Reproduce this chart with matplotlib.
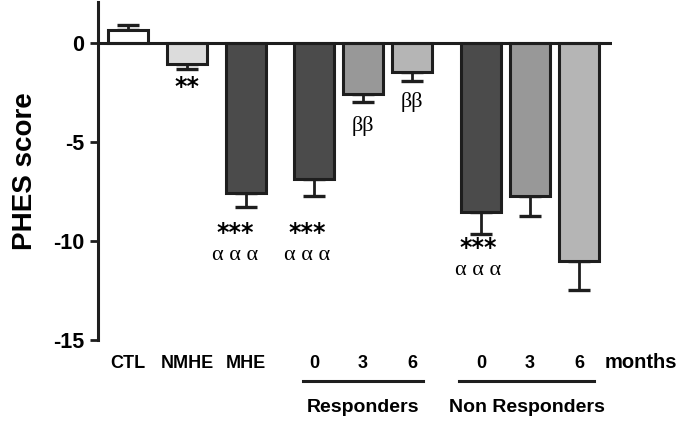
import matplotlib
matplotlib.use("Agg")
import matplotlib.pyplot as plt
import matplotlib.transforms as mtransforms

plt.rcParams["font.family"] = ["Liberation Sans", "DejaVu Sans"]

# data
groups = ["CTL", "NMHE", "MHE", "R0", "R3", "R6", "NR0", "NR3", "NR6"]
tick_names = ["CTL", "NMHE", "MHE", "0", "3", "6", "0", "3", "6"]
scores = [0.65, -1.1, -7.6, -6.9, -2.6, -1.5, -8.55, -7.75, -11.0]
sem = [0.25, 0.25, 0.7, 0.85, 0.4, 0.45, 1.1, 1.0, 1.5]
stars = ["", "**", "***", "***", "", "", "***", "", ""]
greek = ["", "", "α α α", "α α α", "ββ", "ββ", "α α α", "", ""]

# layout (pixel-like x units), and where the marks sit
pos = [128, 187, 246, 314, 363, 412, 481, 530, 579]
mark_dx = [0, 0, -11, -7, 0, 0, -3, 0, 0]
star_y = [0, -2.25, -9.6, -9.6, 0, 0, -10.35, 0, 0]
greek_y = [0, 0, -10.75, -10.75, -4.2, -3.0, -11.5, 0, 0]
fills = ["#ffffff", "#dcdcdc", "#4b4b4b", "#4b4b4b", "#989898",
         "#b5b5b5", "#4b4b4b", "#989898", "#b5b5b5"]
EDGE = "#1e1e1e"
H = 424.0
SERIF = ["Liberation Serif", "DejaVu Serif"]

fig = plt.figure(figsize=(6.85, 4.24), dpi=100)
ax = fig.add_axes([98 / 685, 1 - 340 / H, (612 - 98) / 685, 338 / H])

lower = [e if v < 0 else 0 for v, e in zip(scores, sem)]
upper = [e if v > 0 else 0 for v, e in zip(scores, sem)]
ax.errorbar(pos, scores, yerr=[lower, upper], fmt="none", ecolor=EDGE,
            elinewidth=2, capsize=8, capthick=2.4, zorder=2)
ax.bar(pos, scores, width=40, color=fills, edgecolor=EDGE, linewidth=2.2, zorder=3)
ax.axhline(0, xmin=0, xmax=1, color=EDGE, linewidth=2.2, zorder=4)

ax.set_xlim(98, 612)
ax.set_ylim(-15, 2.05)
ax.set_yticks([0, -5, -10, -15])
ax.set_yticklabels(["0", "-5", "-10", "-15"], fontsize=15.5, fontweight="bold")
ax.tick_params(axis="y", direction="out", length=6, width=2, color=EDGE, pad=4)
ax.set_xticks([])
for s in ["top", "right", "bottom"]:
    ax.spines[s].set_visible(False)
ax.spines["left"].set_linewidth(2.2)
ax.spines["left"].set_color(EDGE)
ax.spines["left"].set_bounds(-15, 2.05)
ax.set_ylabel("PHES score", fontsize=20, fontweight="bold", labelpad=11)

# significance marks below the bars
for x, dx, st, sy, gk, gy in zip(pos, mark_dx, stars, star_y, greek, greek_y):
    if st:
        ax.text(x + dx, sy, st, ha="center", va="center", fontsize=17,
                fontweight="bold", family="DejaVu Sans", zorder=5)
    if gk:
        ax.text(x + dx, gy, gk, ha="center", va="center", fontsize=16,
                family=SERIF, zorder=5)

# labels under the axis
tr = mtransforms.blended_transform_factory(ax.transData, fig.transFigure)
for x, name in zip(pos, tick_names):
    ax.text(x, 1 - 364 / H, name, transform=tr, ha="center", va="center",
            fontsize=13, fontweight="bold", clip_on=False)
ax.text(605, 1 - 362 / H, "months", transform=tr, ha="left", va="center",
        fontsize=14.5, fontweight="bold", clip_on=False)

for x0, x1, lab in [(303, 423, "Responders"), (459, 594, "Non Responders")]:
    ax.plot([x0, x1], [1 - 381 / H] * 2, transform=tr, color=EDGE,
            linewidth=2.2, clip_on=False)
    ax.text((x0 + x1) / 2, 1 - 408 / H, lab, transform=tr, ha="center",
            va="center", fontsize=14, fontweight="bold", clip_on=False)

fig.savefig("out.png", dpi=100)
